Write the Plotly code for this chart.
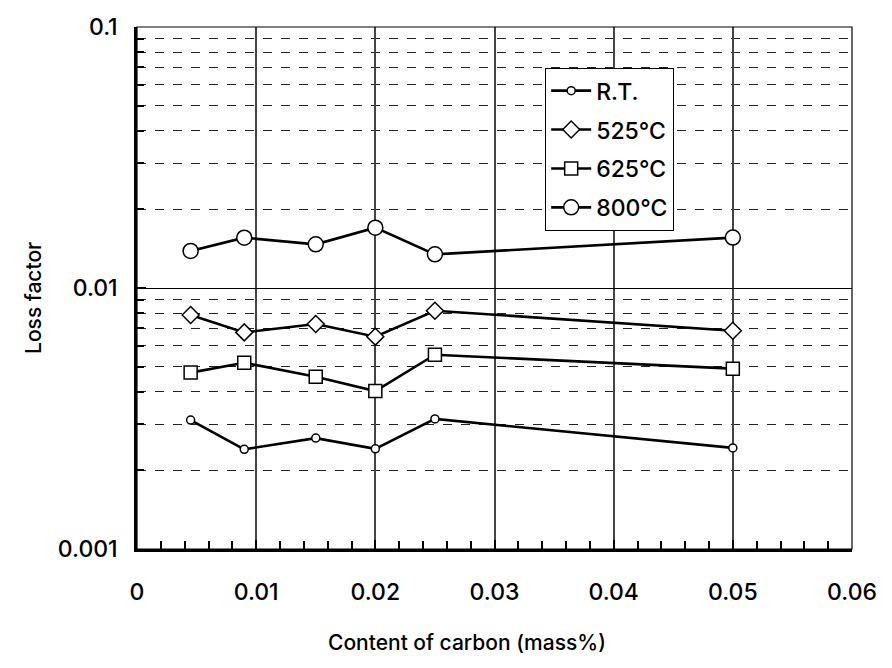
import plotly.graph_objects as go

carbon = [0.0045, 0.009, 0.015, 0.02, 0.025, 0.05]
loss_rt = [0.00312, 0.00241, 0.00266, 0.00242, 0.00315, 0.00244]
loss_525 = [0.00788, 0.00676, 0.00728, 0.00651, 0.00818, 0.00686]
loss_625 = [0.00474, 0.00517, 0.00457, 0.00403, 0.00555, 0.00491]
loss_800 = [0.01387, 0.01559, 0.01470, 0.01703, 0.01346, 0.0156]

series_names = ["R.T.", "525℃", "625℃", "800℃"]
x_ticks = [0, 0.01, 0.02, 0.03, 0.04, 0.05, 0.06]
x_tick_text = ["0", "0.01", "0.02", "0.03", "0.04", "0.05", "0.06"]
y_ticks = [0.001, 0.01, 0.1]
y_tick_text = ["0.001", "0.01", "0.1"]
y_minor = [k * d for d in (0.001, 0.01) for k in range(2, 10)]
x_title = "Content of carbon (mass%)"
y_title = "Loss factor"

FONT = "Inter"
W = 500
styles = [
    dict(symbol="circle", size=8),
    dict(symbol="diamond", size=13),
    dict(symbol="square", size=13),
    dict(symbol="circle", size=15),
]

fig = go.Figure()
for name, vals, st in zip(series_names, [loss_rt, loss_525, loss_625, loss_800], styles):
    fig.add_trace(go.Scatter(
        x=carbon, y=vals, name=name, mode="lines+markers",
        legendgroup=name,
        line=dict(color="black", width=2.6),
        marker=dict(symbol=st["symbol"], size=st["size"], color="white",
                    line=dict(color="black", width=1.5)),
    ))

fig.update_layout(
    width=892, height=668,
    margin=dict(l=137, r=40, t=27, b=119),
    paper_bgcolor="white", plot_bgcolor="white",
    font=dict(family=FONT, color="black", weight=W),
    showlegend=True,
    legend=dict(
        x=0.5706, y=0.9215, xanchor="left", yanchor="top",
        bgcolor="white", bordercolor="black", borderwidth=1.2,
        font=dict(size=23, family=FONT, weight=W), itemwidth=40,
        tracegroupgap=6,
    ),
    shapes=[dict(type="rect", xref="paper", yref="paper", x0=0, x1=1, y0=0, y1=1,
                 line=dict(color="black", width=1.2), layer="above")],
    annotations=[
        dict(text=x_title, xref="paper", yref="paper", x=0.4615, y=-0.180,
             xanchor="center", yanchor="middle", showarrow=False,
             font=dict(size=21, family=FONT, weight=W)),
        dict(text=y_title, xref="paper", yref="paper", x=-0.144, y=0.481,
             xanchor="center", yanchor="middle", showarrow=False, textangle=-90,
             font=dict(size=21, family=FONT, weight=W)),
    ],
)

fig.update_xaxes(
    range=[0, 0.06], tickvals=x_ticks, ticktext=x_tick_text, automargin=False,
    showline=True, linecolor="black", linewidth=2.5,
    ticks="inside", ticklen=9, tickwidth=2, tickcolor="black",
    showgrid=True, gridcolor="#444", gridwidth=1.5,
    minor=dict(dtick=0.002, ticks="inside", ticklen=8, tickwidth=2, tickcolor="black", showgrid=False),
    tickfont=dict(size=23, family=FONT, weight=W),
    ticklabelstandoff=21,
    zeroline=False,
)
fig.update_yaxes(
    type="log", range=[-3, -1], tickvals=y_ticks, ticktext=y_tick_text, automargin=False,
    showline=True, linecolor="black", linewidth=2.5,
    ticks="inside", ticklen=9, tickwidth=2, tickcolor="black",
    showgrid=True, gridcolor="black", gridwidth=1.2,
    minor=dict(tickvals=y_minor, ticks="inside", ticklen=7, tickwidth=2, tickcolor="black",
               showgrid=True, gridcolor="#222", gridwidth=1.2, griddash="dash"),
    tickfont=dict(size=23, family=FONT, weight=W),
    ticklabelstandoff=12,
    zeroline=False,
)

fig.write_html("out.html")
